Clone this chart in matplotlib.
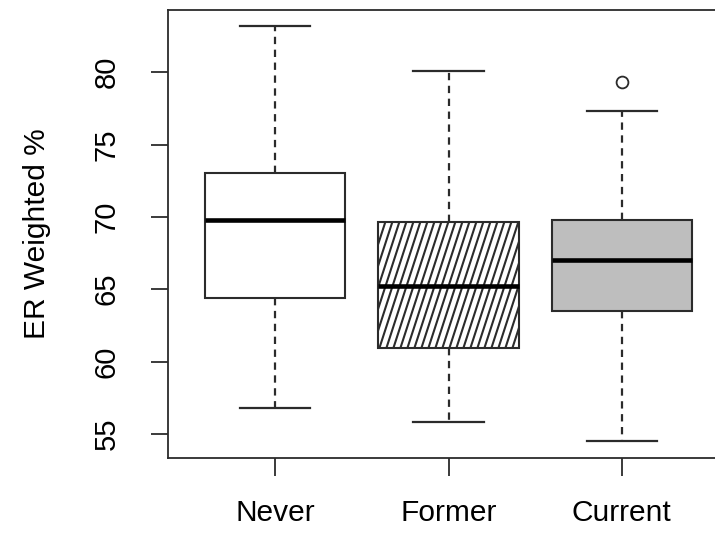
import numpy as np
import matplotlib.pyplot as plt

names = ['Never', 'Former', 'Current']
whislo = [56.8, 55.8, 54.5]
q1 = [64.4, 60.9, 63.5]
med = [69.75, 65.25, 67.0]
q3 = [73.05, 69.65, 69.75]
whishi = [83.2, 80.1, 77.35]
fliers = [[], [], [79.3]]
fills = ['white', 'white', '#bebebe']
hatched = [False, True, False]

plt.rcParams['font.family'] = ['Liberation Sans', 'DejaVu Sans']
ink = '#2b2b2b'

fig = plt.figure(figsize=(7.15, 5.33), dpi=100)
ax = fig.add_axes([168 / 715, 75.3 / 533, 561 / 715, 447.7 / 533])
ax.set_xlim(0.38, 3.62)
ax.set_ylim(53.35, 84.3)

stats = []
for i in range(3):
    stats.append(dict(label=names[i], whislo=whislo[i], q1=q1[i], med=med[i],
                      q3=q3[i], whishi=whishi[i], fliers=fliers[i]))

pos = np.arange(1, 4)
bp = ax.bxp(stats, positions=pos, widths=0.81, capwidths=0.405,
            patch_artist=True, manage_ticks=False,
            boxprops=dict(edgecolor=ink, linewidth=1.5),
            whiskerprops=dict(color=ink, linewidth=1.6, linestyle=(0, (3.3, 2.5))),
            capprops=dict(color=ink, linewidth=1.6),
            medianprops=dict(color='black', linewidth=3.3),
            flierprops=dict(marker='o', markersize=8.5, markerfacecolor='none',
                            markeredgecolor=ink, markeredgewidth=1.3))
for patch, c in zip(bp['boxes'], fills):
    patch.set_facecolor(c)

# steep hatching like R's density shading
for i in range(3):
    if not hatched[i]:
        continue
    box = bp['boxes'][i]
    (px0, py0) = ax.transData.transform((pos[i] - 0.405, q1[i]))
    (px1, py1) = ax.transData.transform((pos[i] + 0.405, q3[i]))
    h = py1 - py0
    shift = h / np.tan(np.radians(72))
    inv = ax.transData.inverted()
    for xb in np.arange(px0 - shift, px1 + 7, 7.0):
        a = inv.transform((xb, py0))
        b = inv.transform((xb + shift, py1))
        ln, = ax.plot([a[0], b[0]], [a[1], b[1]], color=ink, linewidth=1.5, zorder=2.5)
        ln.set_clip_path(box)

for l in bp['medians']:
    l.set_zorder(3)

ax.set_xticks(pos)
ax.set_xticklabels(names)
ax.set_yticks([55, 60, 65, 70, 75, 80])
ax.set_yticklabels(['55', '60', '65', '70', '75', '80'], rotation=90, va='center')
ax.tick_params(axis='y', length=12, width=1.3, color=ink, labelsize=21, pad=22)
ax.tick_params(axis='x', length=13, width=1.3, color=ink, labelsize=21.5, pad=17)
ax.set_ylabel('ER Weighted %', fontsize=21.5, labelpad=30)
for s in ax.spines.values():
    s.set_color(ink)
    s.set_linewidth(1.3)

fig.savefig('out.png', dpi=100)
